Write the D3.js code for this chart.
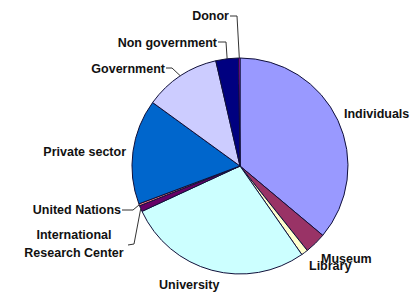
<!DOCTYPE html>
<html>
<head>
<meta charset="utf-8">
<script src="https://cdn.jsdelivr.net/npm/d3@7"></script>
<style>
  html, body { margin: 0; padding: 0; background: #fff; }
  svg { display: block; }
  text { font-family: "Liberation Sans", Arial, sans-serif; font-weight: bold; font-size: 12.5px; fill: #111; }
</style>
</head>
<body>
<div class="container"></div>
<script>
// slice values (percent), clockwise from 12 o'clock
const categories = ["Individuals", "Museum", "Library", "University", "International Research Center",
  "United Nations", "Private sector", "Government", "Non government", "Donor"]
const values = [36.1, 3.2, 1.0, 27.8, 0.9, 0.3, 15.7, 11.4, 3.4, 0.2]
const colours = ["#9999ff", "#993366", "#ffffcc", "#ccffff", "#660066",
  "#ff8080", "#0066cc", "#ccccff", "#000080", "#ff00ff"]

const w = 412
const h = 293
const cx = 240
const cy = 166
const r = 108

// where each label sits, and the elbow of its leader line (if any)
const labelLayout = {
  "Individuals": { x: 344, y: 113, anchor: "start" },
  "Museum": { x: 321, y: 258, anchor: "start" },
  "Library": { x: 309, y: 265, anchor: "start" },
  "University": { x: 159, y: 284, anchor: "start" },
  "International Research Center": { x: 74, y: 234, anchor: "middle", lines: ["International", "Research Center"],
    leader: [[128, 245], [134, 244]] },
  "United Nations": { x: 121, y: 209, anchor: "end", leader: [[122, 210], [133, 210]] },
  "Private sector": { x: 126, y: 151, anchor: "end" },
  "Government": { x: 165, y: 68, anchor: "end", leader: [[166, 68], [172, 68]] },
  "Non government": { x: 217, y: 42, anchor: "end", leader: [[218, 42], [226, 42]] },
  "Donor": { x: 229, y: 15, anchor: "end", leader: [[230, 16], [237, 16]] }
}

const svg = d3.select(".container")
  .append("svg")
  .attr("width", w)
  .attr("height", h)

const data = categories.map((c, i) => ({ name: c, value: values[i], colour: colours[i] }))

const pie = d3.pie().sort(null).value(d => d.value)
const arc = d3.arc().innerRadius(0).outerRadius(r)
const arcs = pie(data)

const g = svg.append("g").attr("transform", `translate(${cx},${cy})`)

g.selectAll("path")
  .data(arcs)
  .enter()
  .append("path")
  .attr("d", arc)
  .attr("fill", d => d.data.colour)
  .attr("stroke", "#10103a")
  .attr("stroke-width", 1)
  .attr("stroke-linejoin", "round")

// leader lines: label -> elbow -> slice edge at its mid angle
arcs.forEach(d => {
  const lay = labelLayout[d.data.name]
  if (!lay.leader) return
  const mid = (d.startAngle + d.endAngle) / 2
  const edge = [cx + r * Math.sin(mid), cy - r * Math.cos(mid)]
  svg.append("path")
    .attr("d", d3.line()([...lay.leader, edge]))
    .attr("fill", "none")
    .attr("stroke", "#333")
    .attr("stroke-width", 1)
})

arcs.forEach(d => {
  const lay = labelLayout[d.data.name]
  const lines = lay.lines || [d.data.name]
  const t = svg.append("text")
    .attr("text-anchor", lay.anchor)
  lines.forEach((ln, i) => {
    t.append("tspan")
      .attr("x", lay.x)
      .attr("y", lay.y + i * 18)
      .attr("dy", "0.36em")
      .text(ln)
  })
})
</script>
</body>
</html>
